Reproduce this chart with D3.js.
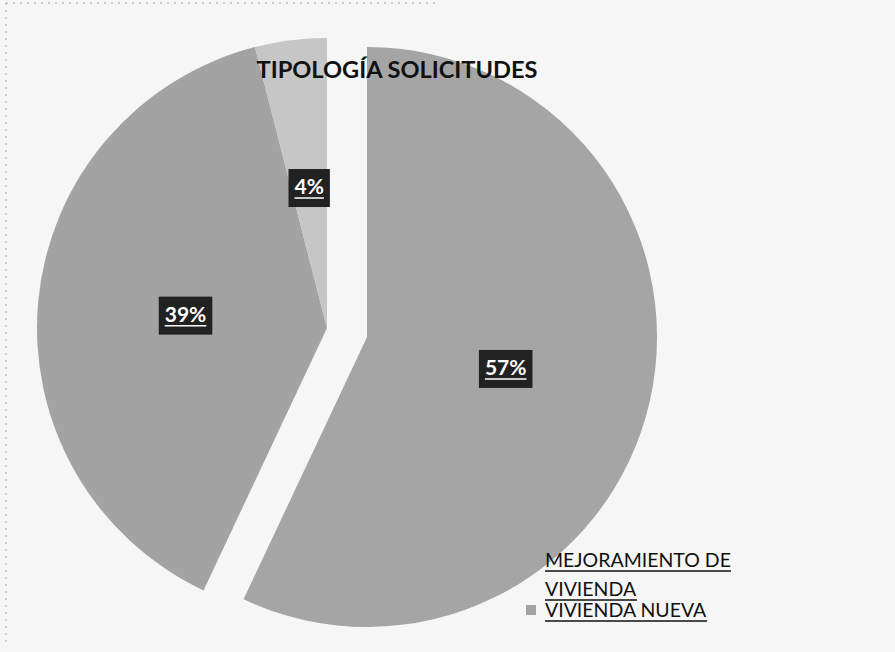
<!DOCTYPE html>
<html><head><meta charset="utf-8">
<script src="https://cdn.jsdelivr.net/npm/d3@7"></script>
<style>html,body{margin:0;padding:0;background:#f6f6f6;}svg{display:block;}</style>
</head><body>
<svg id="c" width="895" height="652"></svg>
<script>
const title = "TIPOLOGÍA SOLICITUDES";
const categories = ["MEJORAMIENTO DE VIVIENDA", "VIVIENDA NUEVA", "OTRA"];
const values = [57, 39, 4];
const labels = ["57%", "39%", "4%"];
const legendLines = [["MEJORAMIENTO DE", "VIVIENDA"], ["VIVIENDA NUEVA"]];
const colors = ["#a5a5a5", "#a3a3a3", "#c6c6c6"];
const explode = [41, 0, 0];

const svg = d3.select("#c");
const W = 895, H = 652;
svg.append("rect").attr("width", W).attr("height", H).attr("fill", "#f6f6f6");
// faint scan border
svg.append("path").attr("d", "M6,3H440M6,3V645").attr("stroke", "#777").attr("stroke-width", 1)
  .attr("stroke-dasharray", "2,5").attr("fill", "none").attr("opacity", 0.6);

const cx = 327, cy = 328, r = 290;
const pie = d3.pie().sort(null).value(d => d)(values);
const arc = d3.arc().innerRadius(0).outerRadius(r);
const labelArc = d3.arc().innerRadius(r * 0.49).outerRadius(r * 0.49);

const g = svg.append("g").attr("transform", `translate(${cx},${cy})`);
const slices = g.selectAll("g.slice").data(pie).join("g").attr("class", "slice")
  .attr("transform", (d, i) => {
    const a = (d.startAngle + d.endAngle) / 2;
    return `translate(${explode[i] * Math.sin(a)},${-explode[i] * Math.cos(a)})`;
  });
slices.append("path").attr("d", arc).attr("fill", (d, i) => colors[i]);

slices.each(function (d, i) {
  const [lx, ly] = labelArc.centroid(d);
  const sel = d3.select(this);
  const t = sel.append("text").attr("x", lx).attr("y", ly + 7).attr("text-anchor", "middle")
    .attr("font-family", "Lato, 'Open Sans', sans-serif").attr("font-weight", "bold")
    .attr("font-size", 21).attr("fill", "#fff").text(labels[i]);
  const bb = t.node().getBBox();
  sel.insert("rect", "text").attr("x", bb.x - 6).attr("y", ly - 18).attr("width", bb.width + 12).attr("height", 38)
    .attr("fill", "#222");
  sel.append("line").attr("x1", bb.x).attr("x2", bb.x + bb.width).attr("y1", ly + 11).attr("y2", ly + 11)
    .attr("stroke", "#fff").attr("stroke-width", 1.5);
});

svg.append("text").attr("x", 397).attr("y", 78).attr("text-anchor", "middle")
  .attr("font-family", "Lato, 'Open Sans', sans-serif").attr("font-weight", "bold")
  .attr("font-size", 22).attr("fill", "#111").attr("textLength", 281).attr("lengthAdjust", "spacingAndGlyphs")
  .text(title);

// legend
const lg = svg.append("g");
const lineY = [[567, 596], [617]];
legendLines.forEach((lines, i) => {
  lg.append("rect").attr("x", 526).attr("y", lineY[i][0] - 12).attr("width", 10).attr("height", 10)
    .attr("fill", colors[i]);
  lines.forEach((s, j) => {
    const t = lg.append("text").attr("x", 545).attr("y", lineY[i][j])
      .attr("font-family", "Lato, 'Open Sans', sans-serif").attr("font-size", 19.5).attr("fill", "#111").text(s);
    const bb = t.node().getBBox();
    lg.append("line").attr("x1", 545).attr("x2", 545 + bb.width).attr("y1", lineY[i][j] + 4).attr("y2", lineY[i][j] + 4)
      .attr("stroke", "#111").attr("stroke-width", 1.5);
  });
});
</script>
</body></html>
